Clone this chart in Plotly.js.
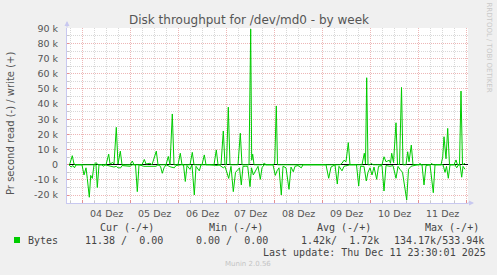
<!DOCTYPE html>
<html>
<head>
<meta charset="utf-8">
<script src="https://cdn.plot.ly/plotly-3.0.1.min.js"></script>
<style>
  html, body { margin: 0; padding: 0; background: #F0F0F0; }
  #chart { width: 497px; height: 275px; }
</style>
</head>
<body>
<div id="chart"></div>
<script>
// ---- data (hours since 2025-12-04 00:00, values in k bytes/s) ----
const writeHours = [-6.85,-6.35,-5.2,-4.35,-3.35,5.65,6.65,7.65,11.65,13,13.65,15,15.65,16.8,17.65,18.8,19.65,23.65,24.8,25.65,29.65,30.8,31.65,33.65,34.65,36.8,37.65,41.65,42.8,43.65,44.8,45.65,47.65,48.8,49.65,53.65,54.8,55.65,59.65,60.8,61.65,65.65,66.8,67.65,69.15,70.3,71.15,71.9,72.8,73.65,77.65,78.8,79.65,83.15,84,84.5,85,85.65,89.65,91,91.65,95.15,96,96.8,97.4,128.65,129.65,130.65,131.65,132.8,133.65,139.65,140.8,141.4,142,142.65,143.65,144.3,145.15,149.65,150.65,151.65,153.3,153.9,154.5,155.4,156.65,157.4,158.4,159.4,160.15,161.65,162.5,163.15,164.3,165.15,168.15,168.65,169.15,174.15,174.5,174.9,179.15,180,180.65,181.65,182.5,183.4,185.65,186.65,187.4,188.4,189.15,189.9,191.15];
const writeK = [0,1,6,0.5,0,0,1.5,0,0,7,0.5,1.5,0.5,24.7,0.5,9,0,0,2.5,0,0,3.5,0.5,1,0,9,0,0,5.5,0,33.5,0,0,7.6,0,0,8.2,0,0,6.5,0,0,9.8,0,0,22.3,0,0,38,0,0,20.8,0,0,89.5,3,7,0,0,1,0,0,1,38.8,0,0,1,3,2,14.6,0,0,7.6,0.5,57.4,0,0,1,0,0,5.3,2,3,1,7.6,1.5,27.7,0.5,0,51,0,0,8.6,2,13,0,0,1,0,0,1,0,0,5,18.5,4,24,0,0,3.2,0,0,48.6,0,1];
const readHours = [-6.85,-5.85,-4.85,-4.1,-3.35,-0.35,0.65,1.65,2.3,3.3,4,4.8,5.65,6.65,7.3,8.15,9.65,10.3,11.15,15.65,16.8,17.65,19,19.65,23.65,24.65,26.4,27.3,28.15,30.65,32.65,34.65,36.65,37.65,38.9,39.8,40.65,41.65,43.15,44.15,45.8,46.65,49.15,50.4,51.3,52.15,53.65,54.65,55.8,56.65,58.3,59.15,63.65,67.5,68.15,70.3,71.15,73,74.15,75.3,76.4,78.4,79.3,80.15,81.4,82.5,83.65,84.4,85.3,86.65,87.65,88.8,89.65,90.65,95.15,96.3,97.15,98.15,99.3,100.15,101.65,103.15,104.15,105.3,106.15,107.65,109.3,110.15,121.65,123,124.15,126.15,127.3,128.15,129.65,130.65,132.65,133.65,136.9,138,138.9,140.65,141.8,142.65,143.65,144.65,145.65,147,147.9,149.65,150.65,151.65,153.65,155.15,156.65,157.65,158.65,159.9,162,162.9,164.15,165.65,167.15,169.65,170.65,171.65,173.65,175.3,176.15,180.15,181.15,181.9,182.8,183.65,186.15,187,187.9,188.65,189.5,190.15,191.15];
const readK = [0,1.5,0.5,2,0,0,6.7,2,9,21.4,7,9,0,0,15,0,0,1,0,1.5,1,2,2,0.5,1,0,0,17.7,0,1,1,1,1,0,1,5.6,2,0,1,1.5,2,0.5,0,0,11,0.5,3,0,19.9,1,4,0,0,0.5,0,2,1,9,1,17.7,5,2,13.3,1,1,1,14.4,2,6.7,3,1,9.6,2,0,0,7,4,2,19.9,1,2,16.2,1.5,4.6,1,0.5,2,0,0,8.9,1.5,0,12.7,1,4,1,0.5,0,0,14,1,1,10.7,5,2,6.7,1.5,9.6,1,0.5,17.3,0.5,1,0.5,8.9,1,3,5,23.2,3,1,0.5,0,0,13.3,0.5,0,18.4,0,0,5,1,8.9,0,0,2,0,0,8.2,1,3];

const dayLabels = ["04 Dez","05 Dez","06 Dez","07 Dez","08 Dez","09 Dez","10 Dez","11 Dez"];
const yTickVals = [-20000,-10000,0,10000,20000,30000,40000,50000,60000,70000,80000,90000];
const yTickText = ["-20 k","-10 k","0","10 k","20 k","30 k","40 k","50 k","60 k","70 k","80 k","90 k"];

const seriesName = "Bytes";
const legendHeaders = ["Cur (-/+)","Min (-/+)","Avg (-/+)","Max (-/+)"];
const legendValues = ["11.38 /\u00a0\u00a00.00","0.00 /\u00a0\u00a00.00","1.42k/\u00a0\u00a01.72k","134.17k/533.94k"];
const lastUpdate = "Last update: Thu Dec 11 23:30:01 2025";

// ---- layout geometry ----
const W = 497, H = 275;
const L = 67, R = 468, T = 28, B = 203;
const X = px => (px - L) / (R - L);
const Y = py => (B - py) / (B - T);

const green = "#00CC00";
const mgrid = "#EDB6B6";
const grid = "#D8D8D8";
const axisCol = "#C8C8F0";
const textCol = "#555555";

const midnights = dayLabels.map((d, i) => i * 24).concat([192]);
const noons = dayLabels.map((d, i) => i * 24 + 12);

const traces = [
  { x: writeHours, y: writeK.map(v => v * 1000), type: "scatter", mode: "lines",
    line: { color: green, width: 1 }, showlegend: false, hoverinfo: "skip" },
  { x: readHours, y: readK.map(v => -v * 1000), type: "scatter", mode: "lines",
    line: { color: green, width: 1 }, showlegend: false, hoverinfo: "skip" },
  { x: [], y: [], xaxis: "x2", type: "scatter", mode: "lines", showlegend: false, hoverinfo: "skip" }
];

const legendX = [98.3, 206.7, 315, 422.7];
const valueX = [83.3, 194.3, 299.3, 392.3];

const annotations = [];
legendHeaders.forEach((t, i) => annotations.push({
  text: t, xref: "paper", yref: "paper", x: X(legendX[i]), y: Y(227.5),
  xanchor: "left", yanchor: "middle", showarrow: false,
  font: { family: "DejaVu Sans Mono", size: 10, color: "#444" }
}));
legendValues.forEach((t, i) => annotations.push({
  text: t, xref: "paper", yref: "paper", x: X(valueX[i]), y: Y(240),
  xanchor: "left", yanchor: "middle", showarrow: false,
  font: { family: "DejaVu Sans Mono", size: 10, color: "#444" }
}));
annotations.push({
  text: seriesName, xref: "paper", yref: "paper", x: X(26), y: Y(240),
  xanchor: "left", yanchor: "middle", showarrow: false,
  font: { family: "DejaVu Sans Mono", size: 10, color: "#444" }
});
annotations.push({
  text: lastUpdate, xref: "paper", yref: "paper", x: X(261.2), y: Y(252),
  xanchor: "left", yanchor: "middle", showarrow: false,
  font: { family: "DejaVu Sans Mono", size: 10, color: "#444" }
});
annotations.push({
  text: "Munin 2.0.56", xref: "paper", yref: "paper", x: X(248), y: Y(264),
  xanchor: "center", yanchor: "middle", showarrow: false,
  font: { family: "DejaVu Sans", size: 7, color: "#C4C4C4" }
});
annotations.push({
  text: "RRDTOOL / TOBI OETIKER", xref: "paper", yref: "paper", x: X(488.5), y: Y(47),
  xanchor: "center", yanchor: "middle", showarrow: false, textangle: 90,
  font: { family: "DejaVu Sans", size: 7, color: "#C8C8C8" }
});
annotations.push({
  text: "Pr second read (-) / write (+)", xref: "paper", yref: "paper", x: X(10), y: Y(124),
  xanchor: "center", yanchor: "middle", showarrow: false, textangle: -90,
  font: { family: "DejaVu Sans", size: 10, color: textCol }
});
// axis arrows
annotations.push({ xref: "paper", yref: "paper", x: 0, y: Y(21), ax: 0, ay: 8,
  showarrow: true, arrowhead: 2, arrowsize: 1, arrowwidth: 1, arrowcolor: axisCol, text: "" });
annotations.push({ xref: "paper", yref: "paper", x: X(474), y: 0, ax: -8, ay: 0,
  showarrow: true, arrowhead: 2, arrowsize: 1, arrowwidth: 1, arrowcolor: axisCol, text: "" });

const layout = {
  width: W, height: H,
  paper_bgcolor: "#F0F0F0", plot_bgcolor: "#FFFFFF",
  margin: { l: L, r: W - R, t: T, b: H - B, pad: 0 },
  showlegend: false,
  title: { text: "Disk throughput for /dev/md0 - by week", xref: "paper", x: X(249), xanchor: "center",
           yref: "container", y: 1 - 19.5 / H, yanchor: "middle",
           font: { family: "DejaVu Sans", size: 12, color: textCol } },
  xaxis: {
    range: [-7.85, 192.65], tickmode: "array", tickvals: midnights, showticklabels: false,
    showgrid: true, gridcolor: mgrid, griddash: "1px,1px", gridwidth: 1,
    ticks: "inside", ticklen: 3, tickcolor: "#E49090", tickwidth: 1,
    minor: { tickmode: "linear", tick0: 0, dtick: 6, showgrid: true, gridcolor: grid, griddash: "1px,1px",
             ticks: "inside", ticklen: 2, tickcolor: "#C8C8C8" },
    showline: true, linecolor: axisCol, linewidth: 1, zeroline: false, fixedrange: true
  },
  xaxis2: {
    overlaying: "x", anchor: "y", side: "bottom", range: [-7.85, 192.65],
    tickmode: "array", tickvals: noons, ticktext: dayLabels, ticks: "", showgrid: false,
    showline: false, zeroline: false, ticklabelstandoff: 3,
    tickfont: { family: "DejaVu Sans", size: 9.5, color: textCol }
  },
  yaxis: {
    range: [-25200, 90200], tickmode: "array", tickvals: yTickVals, ticktext: yTickText,
    showgrid: true, gridcolor: mgrid, griddash: "1px,1px", gridwidth: 1,
    ticks: "inside", ticklen: 2, tickcolor: "#E49090",
    minor: { tickmode: "linear", tick0: 0, dtick: 5000, showgrid: true, gridcolor: grid, griddash: "1px,1px",
             ticks: "inside", ticklen: 2, tickcolor: "#C8C8C8" },
    zeroline: true, zerolinecolor: "#000000", zerolinewidth: 1,
    showline: true, linecolor: axisCol, linewidth: 1,
    tickfont: { family: "DejaVu Sans", size: 9.5, color: textCol }, ticklabelstandoff: 6
  },
  shapes: [
    { type: "rect", xref: "paper", yref: "paper", x0: X(14), x1: X(20), y0: Y(243), y1: Y(237),
      fillcolor: green, line: { width: 0 } }
  ],
  annotations: annotations
};

Plotly.newPlot("chart", traces, layout, { staticPlot: true, displayModeBar: false });
</script>
</body>
</html>
